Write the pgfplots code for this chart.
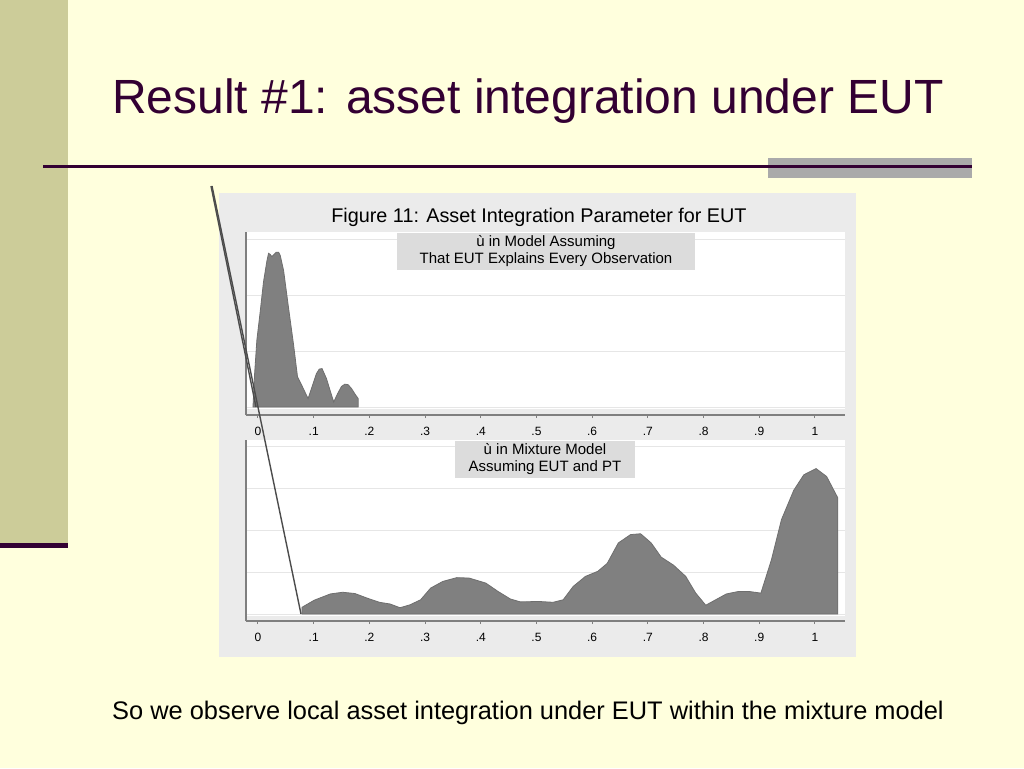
\documentclass[border=0pt]{standalone}
\usepackage{pgfplots}
\pgfplotsset{compat=1.18}
\usepackage{fontspec}
\setmainfont{Liberation Sans}
\definecolor{bg}{HTML}{FFFFDD}
\definecolor{band}{HTML}{CCCC99}
\definecolor{plum}{HTML}{330033}
\definecolor{barg}{HTML}{AAAAAA}
\definecolor{panel}{HTML}{EBEBEB}
\definecolor{lab}{HTML}{DCDCDC}
\definecolor{dens}{HTML}{808080}
\definecolor{densl}{HTML}{6E6E6E}
\definecolor{axg}{HTML}{7F7F7F}
\definecolor{gridg}{HTML}{E6E6E6}
\pgfplotsset{
  dpanel/.style={
    scale only axis, width=299.5pt,
    xmin=-0.0215, xmax=1.054,
    axis lines=left, axis line style={-, draw=axg, line width=0.6pt},
    tick align=outside, major tick length=1.5pt,
    xtick={0,0.1,0.2,0.3,0.4,0.5,0.6,0.7,0.8,0.9,1},
    xticklabels={0,.1,.2,.3,.4,.5,.6,.7,.8,.9,1},
    xtick style={draw=axg, line width=0.5pt},
    xticklabel style={font=\fontsize{6}{7}\selectfont, yshift=-1.2pt},
    yticklabels={}, ytick style={draw=none},
    ymajorgrids, major grid style={draw=gridg, line width=0.5pt},
    /pgf/number format/assume math mode=true,
    anchor=south west,
  }
}
\begin{document}
\begin{tikzpicture}[x=0.5pt,y=0.5pt]
\useasboundingbox (0,0) rectangle (1024,768);
\fill[bg] (0,0) rectangle (1024,768);
\fill[band] (0,225) rectangle (68,768);
\fill[plum] (0,220) rectangle (68,225);
\fill[barg] (768,590) rectangle (972,610);
\draw[plum, line width=1.5pt] (43,602) -- (972,602);
\node[text=plum, font=\fontsize{24}{28}\selectfont] at (528,667) {Result \#1: asset integration under EUT};
\fill[panel] (219,111) rectangle (856,575);
\node[font=\fontsize{9.9}{12}\selectfont] at (539,551) {Figure 11: Asset Integration Parameter for EUT};
\fill[white] (246,359) rectangle (845,536);
\fill[white] (246,152) rectangle (845,328);

\begin{axis}[dpanel, at={(123pt,176.5pt)}, height=91.5pt,
  ymin=-0.1436, ymax=3.142, ytick={0,1,2,3}]
\addplot[fill=dens, draw=densl, line width=0.4pt] coordinates {
(-0.009,0) (-0.006,0.6) (-0.002,1.2) (0.004,1.71) (0.010,2.25) (0.016,2.62)
(0.019,2.76) (0.022,2.74) (0.025,2.70) (0.029,2.74) (0.033,2.78) (0.037,2.78)
(0.040,2.72) (0.046,2.45) (0.055,1.77) (0.064,1.11) (0.071,0.54) (0.080,0.36)
(0.090,0.15) (0.099,0.42) (0.105,0.60) (0.110,0.68) (0.115,0.69) (0.123,0.51)
(0.130,0.28) (0.136,0.09) (0.143,0.24) (0.150,0.37) (0.156,0.41) (0.162,0.40)
(0.168,0.33) (0.175,0.22) (0.180,0.15) (0.180,0)
} \closedcycle;
\end{axis}

\begin{axis}[dpanel, at={(123pt,73.5pt)}, height=90.5pt,
  ymin=-0.1675, ymax=4.163, ytick={0,1,2,3,4}]
\addplot[fill=dens, draw=densl, line width=0.4pt] coordinates {
(0.079,0) (0.079,0.16) (0.101,0.33) (0.130,0.48) (0.152,0.52) (0.174,0.49)
(0.196,0.38) (0.218,0.28) (0.237,0.24) (0.255,0.15) (0.273,0.22) (0.292,0.34)
(0.310,0.62) (0.332,0.78) (0.357,0.87) (0.379,0.86) (0.409,0.74) (0.431,0.54)
(0.453,0.36) (0.471,0.29) (0.504,0.30) (0.530,0.28) (0.548,0.34) (0.566,0.66)
(0.588,0.90) (0.610,1.02) (0.627,1.21) (0.647,1.70) (0.669,1.90) (0.687,1.92)
(0.706,1.70) (0.724,1.36) (0.746,1.17) (0.768,0.90) (0.786,0.50) (0.804,0.21)
(0.819,0.32) (0.841,0.48) (0.863,0.54) (0.881,0.54) (0.903,0.50) (0.922,1.30)
(0.940,2.26) (0.962,2.96) (0.980,3.33) (1.002,3.48) (1.021,3.29) (1.041,2.78)
(1.041,0)
} \closedcycle;
\end{axis}

\fill[lab] (397,498) rectangle (695,535);
\node[align=center, font=\fontsize{7.5}{8.5}\selectfont, inner sep=0pt] at (546,516.5) {ù in Model Assuming\\That EUT Explains Every Observation};
\fill[lab] (455,290) rectangle (635,327);
\node[align=center, font=\fontsize{7.5}{8.5}\selectfont, inner sep=0pt] at (545,308.5) {ù in Mixture Model\\Assuming EUT and PT};

\draw[draw=black!70, line width=0.7pt] (212,582) -- (301,154);
\draw[draw=black!70, line width=0.7pt] (211,582) -- (256,361);

\node[font=\fontsize{12.7}{15}\selectfont] at (528,55) {So we observe local asset integration under EUT within the mixture model};
\end{tikzpicture}
\end{document}
